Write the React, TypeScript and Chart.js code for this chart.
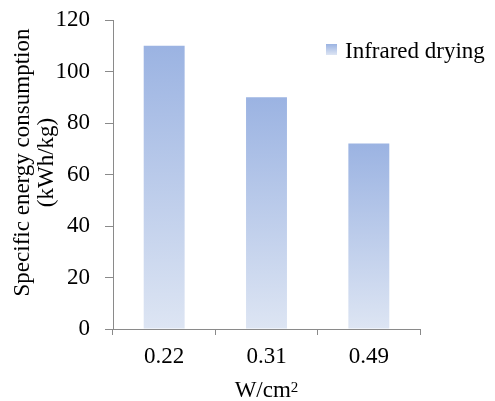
import React, { useEffect, useRef } from "react";
import { Chart, registerables } from "chart.js";

Chart.register(...registerables);

const categories = ["0.22", "0.31", "0.49"];
const seriesName = "Infrared drying";
const energyValues = [110, 90, 72];
const yMin = 0;
const yMax = 120;
const yStep = 20;
const yTitleLines = ["Specific energy consumption", "(kWh/kg)"];
const xTitleMain = "W/cm";
const xTitleSup = "2";

const FONT = "'Liberation Serif', 'Times New Roman', serif";
const FS = 23;
const TOP_COLOR = "#9BB3E2";
const BOTTOM_COLOR = "#DDE5F3";
const AXIS_COLOR = "#8A8A8A";

const textPlugin = {
  id: "customText",
  afterDraw(chart: any) {
    const ctx = chart.ctx as CanvasRenderingContext2D;
    const area = chart.chartArea;
    ctx.save();
    ctx.fillStyle = "#000";
    ctx.font = `${FS}px ${FONT}`;
    ctx.textAlign = "center";
    ctx.textBaseline = "middle";
    const cy = (area.top + area.bottom) / 2 - 12;
    const xs = [23, 47];
    yTitleLines.forEach((line, i) => {
      ctx.save();
      ctx.translate(xs[i], cy);
      ctx.rotate(-Math.PI / 2);
      ctx.fillText(line, 0, 0);
      ctx.restore();
    });
    const cx = (area.left + area.right) / 2;
    ctx.font = `${FS}px ${FONT}`;
    const wMain = ctx.measureText(xTitleMain).width;
    ctx.font = `15px ${FONT}`;
    const wSup = ctx.measureText(xTitleSup).width;
    const startX = cx - (wMain + wSup) / 2;
    ctx.textAlign = "left";
    ctx.textBaseline = "alphabetic";
    ctx.font = `${FS}px ${FONT}`;
    ctx.fillText(xTitleMain, startX, 397);
    ctx.font = `15px ${FONT}`;
    ctx.fillText(xTitleSup, startX + wMain, 392);
    const bx = 326, by = 44, bs = 11;
    const g = ctx.createLinearGradient(0, by, 0, by + bs);
    g.addColorStop(0, TOP_COLOR);
    g.addColorStop(1, BOTTOM_COLOR);
    ctx.fillStyle = g;
    ctx.fillRect(bx, by, bs, bs);
    ctx.fillStyle = "#000";
    ctx.font = `${FS}px ${FONT}`;
    ctx.textBaseline = "middle";
    ctx.fillText(seriesName, 345, 52);
    ctx.restore();
  },
};

export default function App() {
  const ref = useRef<HTMLCanvasElement | null>(null);
  useEffect(() => {
    document.body.style.margin = "0";
    const canvas = ref.current!;
    const chart = new Chart(canvas, {
      type: "bar",
      data: {
        labels: categories,
        datasets: [
          {
            label: seriesName,
            data: energyValues,
            backgroundColor: (context: any) => {
              const c = context.chart;
              const ys = c.scales && c.scales.y;
              if (!c.chartArea || !ys || context.raw === undefined) return TOP_COLOR;
              const top = ys.getPixelForValue(context.raw);
              const bottom = ys.getPixelForValue(0);
              const g = c.ctx.createLinearGradient(0, top, 0, bottom);
              g.addColorStop(0, TOP_COLOR);
              g.addColorStop(1, BOTTOM_COLOR);
              return g;
            },
            borderWidth: 0,
            barPercentage: 0.4,
            categoryPercentage: 1,
          },
        ],
      },
      options: {
        responsive: false,
        animation: false,
        devicePixelRatio: 1,
        layout: { padding: { top: 20, right: 75, left: 0, bottom: 0 } },
        plugins: {
          legend: { display: false },
          tooltip: { enabled: false },
        },
        scales: {
          x: {
            offset: true,
            grid: {
              offset: true,
              drawOnChartArea: false,
              drawTicks: true,
              tickLength: 6,
              color: AXIS_COLOR,
            },
            border: { display: true, color: AXIS_COLOR, width: 1 },
            ticks: {
              color: "#000",
              font: { family: FONT, size: FS },
              padding: 8,
              maxRotation: 0,
            },
            afterFit: (scale: any) => {
              scale.height = 72;
              scale.paddingLeft = 0;
              scale.paddingRight = 0;
            },
          },
          y: {
            min: yMin,
            max: yMax,
            grid: {
              drawOnChartArea: false,
              drawTicks: true,
              tickLength: 8,
              color: AXIS_COLOR,
            },
            border: { display: true, color: AXIS_COLOR, width: 1 },
            ticks: {
              stepSize: yStep,
              color: "#000",
              font: { family: FONT, size: FS },
              padding: 15,
            },
            afterFit: (scale: any) => {
              scale.width = 113;
              scale.paddingTop = 0;
              scale.paddingBottom = 0;
            },
          },
        },
      },
      plugins: [textPlugin],
    } as any);
    return () => chart.destroy();
  }, []);
  return <canvas ref={ref} width={495} height={401} style={{ display: "block" }} />;
}
